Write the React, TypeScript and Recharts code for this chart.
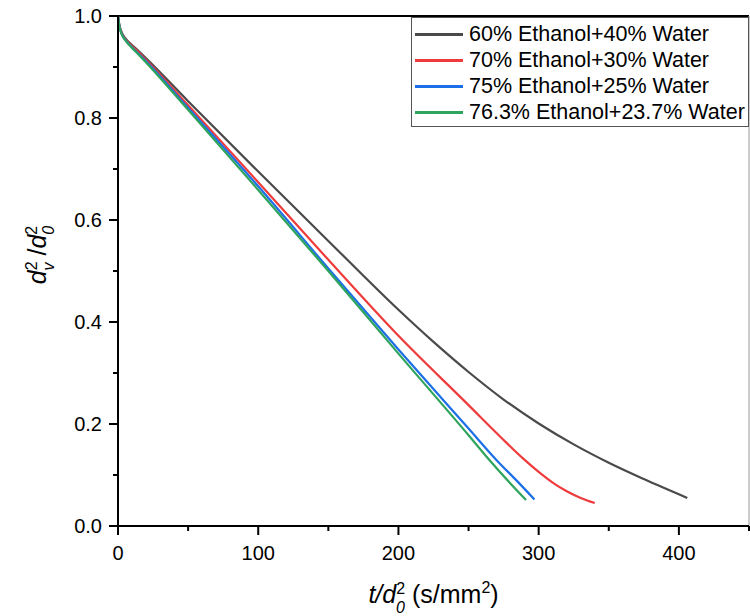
import React from 'react';
import { LineChart, Line, XAxis, YAxis, Legend, ReferenceLine } from 'recharts';

// time / d0^2 (s/mm^2) and normalised squared diameter
const t60 = [0, 1, 2.5, 5, 8, 12, 20, 50, 100, 150, 200, 225, 250, 275, 300, 325, 350, 375, 406];
const d60 = [1.0, 0.982, 0.969, 0.957, 0.948, 0.938, 0.917, 0.833, 0.695, 0.559, 0.424, 0.361, 0.302, 0.248, 0.201, 0.16, 0.124, 0.092, 0.055];

const t70 = [0, 1, 2.5, 5, 8, 12, 20, 50, 100, 150, 200, 250, 273, 289, 300, 310, 320, 330, 340];
const d70 = [1.0, 0.981, 0.967, 0.955, 0.946, 0.936, 0.914, 0.825, 0.674, 0.522, 0.373, 0.237, 0.174, 0.132, 0.106, 0.085, 0.068, 0.055, 0.045];

const t75 = [0, 1, 2.5, 5, 8, 12, 20, 50, 100, 150, 200, 250, 270, 285, 297];
const d75 = [1.0, 0.98, 0.966, 0.954, 0.944, 0.933, 0.911, 0.82, 0.666, 0.505, 0.346, 0.191, 0.129, 0.087, 0.052];

const t763 = [0, 1, 2.5, 5, 8, 12, 20, 50, 100, 150, 200, 250, 265, 280, 291];
const d763 = [1.0, 0.98, 0.965, 0.953, 0.943, 0.932, 0.909, 0.816, 0.659, 0.5, 0.338, 0.178, 0.129, 0.083, 0.051];

const seriesNames = [
  '60% Ethanol+40% Water',
  '70% Ethanol+30% Water',
  '75% Ethanol+25% Water',
  '76.3% Ethanol+23.7% Water',
];
const seriesColors = ['#4a4a4a', '#ef3b3b', '#1c6fe6', '#2ea45c'];

const xTicks = [0, 50, 100, 150, 200, 250, 300, 350, 400, 450];
const xLabelled = [0, 100, 200, 300, 400];
const yTicks = [0, 0.1, 0.2, 0.3, 0.4, 0.5, 0.6, 0.7, 0.8, 0.9, 1.0];
const yLabelled = [0, 0.2, 0.4, 0.6, 0.8, 1.0];

const toPoints = (xs: number[], ys: number[]) => xs.map((x, i) => ({ x, y: ys[i] }));
const series = [
  toPoints(t60, d60),
  toPoints(t70, d70),
  toPoints(t75, d75),
  toPoints(t763, d763),
];

const FONT = '"Liberation Sans", Arial, sans-serif';

const XTick = (props: any) => {
  const { x, y, payload } = props;
  const major = xLabelled.includes(payload.value);
  return (
    <g>
      <line x1={x} x2={x} y1={y} y2={y + (major ? 9 : 5)} stroke="#000" strokeWidth={2} />
      {major && (
        <text x={x} y={y + 34} textAnchor="middle" fontSize={20} fontFamily={FONT} fill="#000">
          {payload.value}
        </text>
      )}
    </g>
  );
};

const YTick = (props: any) => {
  const { x, y, payload } = props;
  const v = Math.round(payload.value * 10) / 10;
  const major = yLabelled.some((m) => Math.abs(m - v) < 1e-6);
  return (
    <g>
      <line x1={x - (major ? 9 : 5)} x2={x} y1={y} y2={y} stroke="#000" strokeWidth={2} />
      {major && (
        <text x={x - 16} y={y + 7} textAnchor="end" fontSize={20} fontFamily={FONT} fill="#000">
          {v.toFixed(1)}
        </text>
      )}
    </g>
  );
};

const XTitle = (props: any) => {
  const { viewBox } = props;
  const cx = viewBox.x + viewBox.width / 2;
  const base = viewBox.y + 77;
  return (
    <text x={cx} y={base} textAnchor="middle" fontSize={25} fontFamily={FONT} fill="#000">
      <tspan fontStyle="italic">t/d</tspan>
      <tspan fontSize={16} dy={-9}>2</tspan>
      <tspan fontSize={16} fontStyle="italic" dx={-9} dy={19}>0</tspan>
      <tspan dy={-10}> (s/mm</tspan>
      <tspan fontSize={16} dy={-10}>2</tspan>
      <tspan dy={10}>)</tspan>
    </text>
  );
};

const YTitle = (props: any) => {
  const { viewBox } = props;
  const cx = 46;
  const cy = viewBox.y + viewBox.height / 2 - 16;
  return (
    <text
      x={cx}
      y={cy}
      transform={`rotate(-90 ${cx} ${cy})`}
      textAnchor="middle"
      fontSize={25}
      fontFamily={FONT}
      fill="#000"
    >
      <tspan fontStyle="italic">d</tspan>
      <tspan fontSize={16} dy={-9}>2</tspan>
      <tspan fontSize={16} fontStyle="italic" dx={-9} dy={17}>v</tspan>
      <tspan dy={-8}> /</tspan>
      <tspan fontStyle="italic">d</tspan>
      <tspan fontSize={16} dy={-9}>2</tspan>
      <tspan fontSize={16} fontStyle="italic" dx={-9} dy={17}>0</tspan>
    </text>
  );
};

const LegendBox = () => (
  <div
    style={{
      border: '1px solid #555',
      background: '#fff',
      boxSizing: 'border-box',
      width: 338,
      height: 110,
      padding: '3px 0 0 3px',
      fontFamily: FONT,
      fontSize: 21.5,
      color: '#000',
    }}
  >
    {seriesNames.map((name, i) => (
      <div key={name} style={{ display: 'flex', alignItems: 'center', height: 26, whiteSpace: 'nowrap' }}>
        <span style={{ display: 'inline-block', width: 48, height: 3, background: seriesColors[i], marginRight: 6 }} />
        <span>{name}</span>
      </div>
    ))}
  </div>
);

export default function App() {
  return (
    <div style={{ position: 'absolute', left: 0, top: 0, width: 750, height: 616, background: '#fff' }}>
      <LineChart width={750} height={616} margin={{ top: 16, right: 1, bottom: 50, left: 58 }}>
        <XAxis
          type="number"
          dataKey="x"
          domain={[0, 450]}
          ticks={xTicks}
          interval={0}
          tickSize={0}
          tickMargin={0}
          tick={<XTick />}
          axisLine={{ stroke: '#000', strokeWidth: 2 }}
          height={40}
          allowDataOverflow
          label={<XTitle />}
        />
        <YAxis
          type="number"
          dataKey="y"
          domain={[0, 1]}
          ticks={yTicks}
          interval={0}
          tickSize={0}
          tickMargin={0}
          tick={<YTick />}
          axisLine={{ stroke: '#000', strokeWidth: 2 }}
          width={60}
          allowDataOverflow
          label={<YTitle />}
        />
        <ReferenceLine y={1} stroke="#000" strokeWidth={2} />
        <ReferenceLine x={450} stroke="#999" strokeWidth={1} />
        {series.map((pts, i) => (
          <Line
            key={seriesNames[i]}
            data={pts}
            dataKey="y"
            name={seriesNames[i]}
            type="monotone"
            stroke={seriesColors[i]}
            strokeWidth={2.2}
            dot={false}
            isAnimationActive={false}
          />
        ))}
        <Legend
          layout="vertical"
          align="center"
          verticalAlign="middle"
          content={<LegendBox />}
          wrapperStyle={{ left: 411, top: 17, width: 338, height: 110 }}
        />
      </LineChart>
    </div>
  );
}
